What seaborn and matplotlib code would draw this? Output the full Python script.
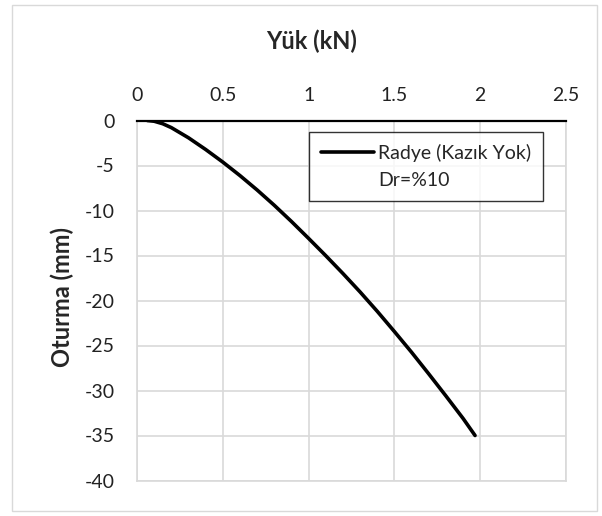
import matplotlib
matplotlib.use("Agg")
import matplotlib.pyplot as plt
import seaborn as sns
import pandas as pd
from matplotlib.lines import Line2D
from matplotlib.patches import Rectangle

# Data
load_kn = [0.06, 0.10, 0.15, 0.20, 0.30, 0.40, 0.50, 0.60, 0.70, 0.80, 0.90, 1.00,
           1.10, 1.20, 1.30, 1.40, 1.50, 1.60, 1.70, 1.80, 1.90, 1.97]
settlement_mm = [0.0, -0.08, -0.36, -0.79, -1.92, -3.22, -4.62, -6.12, -7.72, -9.42, -11.22, -13.10,
                 -15.02, -17.00, -19.05, -21.20, -23.45, -25.75, -28.15, -30.60, -33.10, -35.00]
x_ticks = [0, 0.5, 1, 1.5, 2, 2.5]
y_ticks = [0, -5, -10, -15, -20, -25, -30, -35, -40]
series_label = "Radye (Kazık Yok)"
extra_label = "Dr=%10"
x_title = "Yük (kN)"
y_title = "Oturma (mm)"

df = pd.DataFrame({"x": load_kn, "y": settlement_mm})

sns.set_style("white")
plt.rcParams["font.family"] = ["Lato", "DejaVu Sans"]

fig = plt.figure(figsize=(6.02, 5.16), dpi=100)
ax = fig.add_axes([137/602, 1 - 480.5/516, (566 - 137)/602, (480.5 - 120.5)/516])

sns.lineplot(data=df, x="x", y="y", ax=ax, color="black", linewidth=2.6, sort=False)

ax.set_xlim(0, 2.5)
ax.set_ylim(-40, 0)
ax.set_xticks(x_ticks)
ax.set_xticklabels([f"{t:g}" for t in x_ticks])
ax.set_yticks(y_ticks)
ax.set_yticklabels([f"{t:g}" for t in y_ticks])
ax.xaxis.tick_top()
ax.xaxis.set_label_position("top")
ax.tick_params(axis="both", length=0, labelsize=14, colors="#222222")
ax.tick_params(axis="x", pad=12)
ax.tick_params(axis="y", pad=16)
ax.grid(True, color="#d9d9d9", linewidth=1.2)
for s in ["left", "right", "bottom"]:
    ax.spines[s].set_color("#d9d9d9")
    ax.spines[s].set_linewidth(1.2)
ax.spines["top"].set_color("#000000")
ax.spines["top"].set_linewidth(1.6)
ax.spines["top"].set_zorder(5)

ax.set_xlabel(x_title, fontsize=17, fontweight="bold")
ax.xaxis.set_label_coords(0.406, 1.219)
ax.xaxis.label.set_va("center")
ax.set_ylabel(y_title, fontsize=17, fontweight="bold")
ax.yaxis.set_label_coords(-0.174, 0.51)
ax.yaxis.label.set_va("center")

handles = [Line2D([0], [0], color="black", linewidth=2.6),
           Line2D([0], [0], color="none", linewidth=0)]
leg = ax.legend(handles, [series_label, extra_label], loc="upper left",
                bbox_to_anchor=(0.402, 0.968), borderaxespad=0, frameon=True,
                fancybox=False, fontsize=14, handlelength=2.7, handletextpad=0.25,
                labelspacing=0.55, borderpad=0.6)
leg.get_frame().set_edgecolor("black")
leg.get_frame().set_linewidth(1.0)

fig.patches.append(Rectangle((12/602, 5/516), (597 - 12)/602, (511 - 5)/516,
                             transform=fig.transFigure, fill=False,
                             edgecolor="#d9d9d9", linewidth=1.0))

fig.savefig("out.png", dpi=100, facecolor="white")
